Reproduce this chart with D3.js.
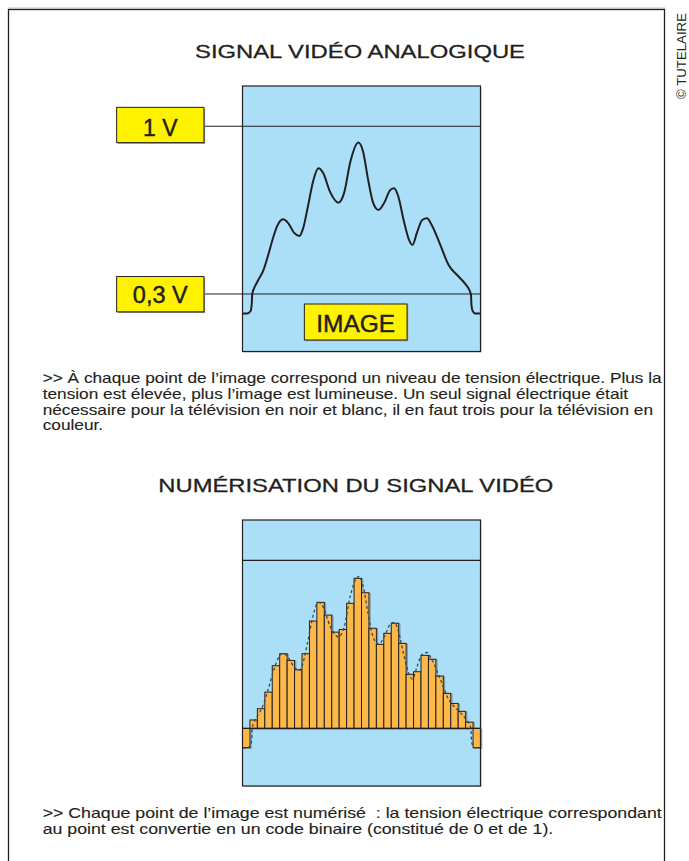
<!DOCTYPE html>
<html><head><meta charset="utf-8">
<script src="https://cdn.jsdelivr.net/npm/d3@7"></script>
<style>html,body{margin:0;padding:0;background:#fff;}svg{display:block;}</style>
</head><body>
<svg id="c" width="689" height="861"></svg>
<script>
// ---------- DATA ----------
const title1 = "SIGNAL VIDÉO ANALOGIQUE";
const title2 = "NUMÉRISATION DU SIGNAL VIDÉO";
const levelLabels = ["1 V", "0,3 V"];
const levelValues = [1, 0.3];
const imageLabel = "IMAGE";
// analog signal : time (0..100 across the screen) and voltage (V)
const analogT = [0,2.0,3.4,3.9,4.1,4.9,6.4,8.8,10.8,13.0,14.6,17.0,19.2,21.7,23.9,25.5,27.6,29.7,31.9,33.9,36.8,40.3,42.7,45.3,48.7,50.7,52.8,54.9,57.1,59.5,62.1,63.7,65.4,67.9,70.0,71.4,73.4,75.5,77.5,79.7,83.1,86.6,90.6,93.6,95.3,96.0,96.2,96.7,97.8,100];
const analogV = [0.219,0.219,0.229,0.262,0.300,0.325,0.354,0.400,0.463,0.539,0.584,0.612,0.596,0.555,0.542,0.575,0.671,0.772,0.825,0.805,0.726,0.681,0.722,0.851,0.932,0.893,0.776,0.680,0.651,0.680,0.734,0.741,0.709,0.600,0.525,0.505,0.559,0.609,0.616,0.584,0.505,0.421,0.375,0.342,0.317,0.296,0.254,0.229,0.219,0.219];
// digitised samples (V), 32 slots incl. blanking at both ends
const sampleV = [0.22,0.335,0.382,0.451,0.561,0.611,0.583,0.544,0.611,0.747,0.825,0.772,0.701,0.712,0.821,0.925,0.865,0.717,0.650,0.696,0.738,0.654,0.525,0.536,0.604,0.588,0.518,0.446,0.404,0.371,0.326,0.22];
const blackLevel = 0.3;
const para1 = [
  ">> À chaque point de l’image correspond un niveau de tension électrique. Plus la",
  "tension est élevée, plus l’image est lumineuse. Un seul signal électrique était",
  "nécessaire pour la télévision en noir et blanc, il en faut trois pour la télévision en",
  "couleur."];
const para2 = [
  ">> Chaque point de l’image est numérisé\u00a0 : la tension électrique correspondant",
  "au point est convertie en un code binaire (constitué de 0 et de 1)."];
const copyright = "© TUTELAIRE";

// ---------- STYLE ----------
const INK = "#231f20", BLUE = "#abdff8", YELLOW = "#fff200", ORANGE = "#fdb84a";
const FONT = "'Liberation Sans', Arial, Helvetica, sans-serif";

const svg = d3.select("#c");

// frame
svg.append("line").attr("x1",8).attr("x2",665).attr("y1",8).attr("y2",8).attr("stroke","#bbb").attr("stroke-width",1);
svg.append("rect").attr("x",8.5).attr("y",9.5).attr("width",656).attr("height",900)
  .attr("fill","none").attr("stroke",INK).attr("stroke-width",1.3);

// copyright
svg.append("text").attr("transform","translate(686,99) rotate(-90)")
  .attr("font-family",FONT).attr("font-size",12).attr("fill",INK)
  .attr("textLength",86).attr("lengthAdjust","spacingAndGlyphs").text(copyright);

// widen glyphs a little (the reference face is wider than Arial)
function stretch(sel, factor){
  const w = sel.node().getComputedTextLength();
  sel.attr("textLength", (w*factor).toFixed(2)).attr("lengthAdjust","spacingAndGlyphs");
  return w;
}
function fitTo(sel, target){
  const w = sel.node().getComputedTextLength();
  sel.attr("textLength", target).attr("lengthAdjust","spacingAndGlyphs");
  return target / w;
}

// titles
const t1 = svg.append("text").attr("x",195).attr("y",58.3)
  .attr("font-family",FONT).attr("font-size",19).attr("fill",INK)
  .attr("stroke",INK).attr("stroke-width",0.3).text(title1);
fitTo(t1,330);
const t2 = svg.append("text").attr("x",158.3).attr("y",491.7)
  .attr("font-family",FONT).attr("font-size",19).attr("fill",INK)
  .attr("stroke",INK).attr("stroke-width",0.3).text(title2);
fitTo(t2,395);

// scales
const x = d3.scaleLinear().domain([0,100]).range([242.5,480.5]);
const yTop = d3.scaleLinear().domain([0.06,1.168]).range([351.5,86]);
const yBot = d3.scaleLinear().domain([0.06,1.168]).range([786,520]);
const band = d3.scaleBand().domain(d3.range(sampleV.length)).range([242.5,480.5]).padding(0);

const analog = analogT.map((t,i)=>({t, v:analogV[i]}));

function box(g, y){
  const [y0,y1] = y.range();
  g.append("rect").attr("x",x(0)+1).attr("y",y1+1).attr("width",x(100)-x(0)).attr("height",y0-y1)
    .attr("fill","#c8c8c8");
  g.append("rect").attr("x",x(0)).attr("y",y1).attr("width",x(100)-x(0)).attr("height",y0-y1)
    .attr("fill",BLUE);
}
function boxBorder(g,y){
  const [y0,y1] = y.range();
  g.append("rect").attr("x",x(0)).attr("y",y1).attr("width",x(100)-x(0)).attr("height",y0-y1)
    .attr("fill","none").attr("stroke",INK).attr("stroke-width",1.2);
}
function yellowLabel(g, cx, cy, w, h, txt, base, fs){
  g.append("rect").attr("x",cx-w/2+1.2).attr("y",cy-h/2+1.2).attr("width",w).attr("height",h).attr("fill","#999");
  g.append("rect").attr("x",cx-w/2).attr("y",cy-h/2).attr("width",w).attr("height",h)
    .attr("fill",YELLOW).attr("stroke",INK).attr("stroke-width",1);
  g.append("text").attr("x",cx).attr("y",base).attr("text-anchor","middle")
    .attr("font-family",FONT).attr("font-size",fs).attr("fill",INK)
    .attr("stroke",INK).attr("stroke-width",0.45).text(txt);
}

// ---------- TOP CHART ----------
const gTop = svg.append("g");
box(gTop, yTop);
const labelBoxes = [{cy:125, base:135.5, fs:23},{cy:294.2, base:302.7, fs:23.5}];
levelValues.forEach((v,i)=>{
  gTop.append("line").attr("x1",204).attr("x2",x(100)).attr("y1",yTop(v)).attr("y2",yTop(v))
    .attr("stroke",INK).attr("stroke-width",1);
});
const line = d3.line().x(d=>x(d.t)).curve(d3.curveMonotoneX);
gTop.append("path").datum(analog).attr("d", line.y(d=>yTop(d.v)))
  .attr("fill","none").attr("stroke",INK).attr("stroke-width",2);
// image label
yellowLabel(gTop, 355.7, 322, 102.7, 36, imageLabel, 331.7, 24.5);
boxBorder(gTop, yTop);
levelValues.forEach((v,i)=>{
  yellowLabel(gTop, 160.3, labelBoxes[i].cy, 87.3, 35.3, levelLabels[i], labelBoxes[i].base, labelBoxes[i].fs);
});

// ---------- BOTTOM CHART ----------
const gBot = svg.append("g");
box(gBot, yBot);
gBot.append("line").attr("x1",x(0)).attr("x2",x(100)).attr("y1",yBot(1)).attr("y2",yBot(1))
  .attr("stroke",INK).attr("stroke-width",1.2);
const bars = sampleV.map((v,i)=>({i,v}));
gBot.selectAll("rect.sh").data(bars).join("rect").attr("class","sh")
  .attr("x",d=>band(d.i)+1.2).attr("width",band.bandwidth())
  .attr("y",d=>yBot(Math.max(d.v,blackLevel))+0.8)
  .attr("height",d=>Math.abs(yBot(d.v)-yBot(blackLevel)))
  .attr("fill","none").attr("stroke","#6d7a80").attr("stroke-opacity",0.7).attr("stroke-width",1.2);
gBot.selectAll("rect.bar").data(bars).join("rect").attr("class","bar")
  .attr("x",d=>band(d.i)).attr("width",band.bandwidth())
  .attr("y",d=>yBot(Math.max(d.v,blackLevel)))
  .attr("height",d=>Math.abs(yBot(d.v)-yBot(blackLevel)))
  .attr("fill",ORANGE).attr("stroke",INK).attr("stroke-width",1);
gBot.append("line").attr("x1",x(0)).attr("x2",x(100)).attr("y1",yBot(blackLevel)).attr("y2",yBot(blackLevel))
  .attr("stroke",INK).attr("stroke-width",1.2);
gBot.append("path").datum(analog).attr("d", line.y(d=>yBot(d.v)))
  .attr("fill","none").attr("stroke","#3a4a55").attr("stroke-width",1.3).attr("stroke-dasharray","3,2.5");
boxBorder(gBot, yBot);

// ---------- PARAGRAPHS ----------
function para(lines, y0, lh, firstWidth){
  const g = svg.append("g");
  const ts = lines.map((l,i)=>g.append("text").attr("x",42.7).attr("y",y0+i*lh)
      .attr("font-family",FONT).attr("font-size",14.2).attr("fill",INK)
      .attr("stroke",INK).attr("stroke-width",0.12).text(l));
  const factor = ts[0].node().getComputedTextLength();
  const k = firstWidth / factor;
  ts.forEach(t=>stretch(t,k));
}
para(para1, 383.3, 15.6, 619);
para(para2, 818.3, 15.3, 619);
</script>
</body></html>
